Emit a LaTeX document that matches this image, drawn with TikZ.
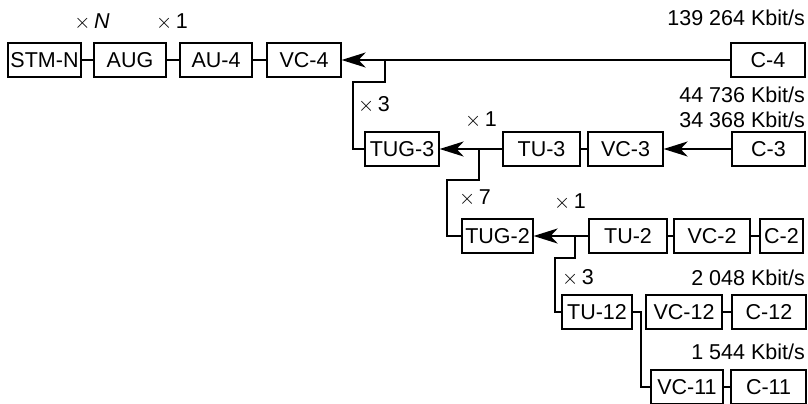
\documentclass[tikz,border=0pt]{standalone}
\usepackage{fontspec}
\setmainfont{Liberation Sans}
\usetikzlibrary{arrows.meta, positioning, calc}

\begin{document}
\begin{tikzpicture}[x=1pt, y=-1pt,
    font=\fontsize{21.5}{25}\selectfont,
    box/.style={draw, line width=1.2pt, minimum height=34pt, inner sep=0pt},
    link/.style={line width=2.2pt},
    arr/.style={line width=2.2pt, -{Stealth[length=24pt, width=15pt, inset=7pt]}},
    mult/.style={inner sep=0pt},
    rate/.style={inner sep=0pt, anchor=east}]
      \useasboundingbox (0,0) rectangle (808,404);

      % row 1
      \node[box, minimum width=73pt] (stm) at (44.5,60) {STM-N};
      \node[box, minimum width=72pt] (aug) at (130,60) {AUG};
      \node[box, minimum width=72pt] (au4) at (216,60) {AU-4};
      \node[box, minimum width=74pt] (vc4) at (304,60) {VC-4};
      \node[box, minimum width=74pt] (c4) at (768,60) {C-4};

      % row 2
      \node[box, minimum width=74pt] (tug3) at (402,149) {TUG-3};
      \node[box, minimum width=77pt] (tu3) at (541.5,149) {TU-3};
      \node[box, minimum width=75pt] (vc3) at (625.5,149) {VC-3};
      \node[box, minimum width=73pt] (c3) at (768.5,149) {C-3};

      % row 3
      \node[box, minimum width=71pt] (tug2) at (497.5,236) {TUG-2};
      \node[box, minimum width=78pt] (tu2) at (628,236) {TU-2};
      \node[box, minimum width=76pt] (vc2) at (712,236) {VC-2};
      \node[box, minimum width=43pt] (c2) at (781.5,236) {C-2};

      % rows 4 and 5
      \node[box, minimum width=70pt] (tu12) at (597,312) {TU-12};
      \node[box, minimum width=76pt] (vc12) at (684,312) {VC-12};
      \node[box, minimum width=74pt] (c12) at (769,312) {C-12};
      \node[box, minimum width=72pt] (vc11) at (687,387) {VC-11};
      \node[box, minimum width=75pt] (c11) at (768.5,387) {C-11};

      % multiplexing factors and rates
      \node[mult] (mN) at (92,22) {$\times$\,\textit{N}};
      \node[mult] (m1a) at (172,22) {$\times$\,1};
      \node[mult] (m3a) at (374,105) {$\times$\,3};
      \node[mult] (m1b) at (481,120) {$\times$\,1};
      \node[mult] (m7) at (475,198) {$\times$\,7};
      \node[mult] (m1c) at (570,202) {$\times$\,1};
      \node[mult] (m3b) at (578,278) {$\times$\,3};
      \node[rate] (r4) at (805,18) {139 264 Kbit/s};
      \node[rate] (r3a) at (805,95) {44 736 Kbit/s};
      \node[rate] (r3b) at (805,120) {34 368 Kbit/s};
      \node[rate] (r12) at (805,278) {2 048 Kbit/s};
      \node[rate] (r11) at (805,352) {1 544 Kbit/s};

      \coordinate (j1) at (385,60);
      \coordinate (j2) at (479,149);
      \coordinate (j3) at (575,236);

      \draw[link] (stm) -- (aug);
      \draw[link] (aug) -- (au4);
      \draw[link] (au4) -- (vc4);
      \draw[arr] (c4) -- (vc4);
      \draw[link] (tug3.west) -| ($(j1)+(-32,22)$) -| (j1);

      \draw[arr] (tu3) -- (tug3);
      \draw[link] (vc3) -- (tu3);
      \draw[arr] (c3) -- (vc3);
      \draw[link] (tug2.west) -| ($(j2)+(-32,31)$) -| (j2);

      \draw[arr] (tu2) -- (tug2);
      \draw[link] (vc2) -- (tu2);
      \draw[link] (c2) -- (vc2);
      \draw[link] (tu12.west) -| ($(j3)+(-20,22)$) -| (j3);

      \draw[link] (tu12.east) -- ++(8,0) |- (vc11.west);
      \draw[link] (vc12) -- (c12);
      \draw[link] (vc11) -- (c11);
    \end{tikzpicture}
\end{document}
